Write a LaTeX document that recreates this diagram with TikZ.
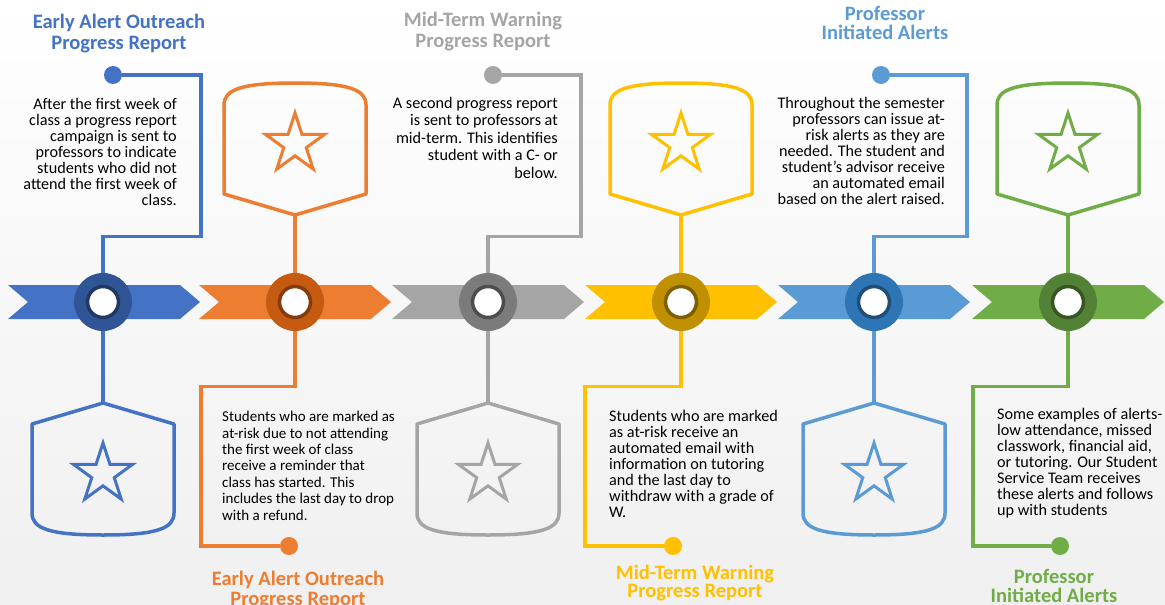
\documentclass[tikz,border=0pt]{standalone}
\usepackage{fontspec}
\setmainfont{Carlito}
\usetikzlibrary{shapes.geometric}
\definecolor{tlblue}{HTML}{4472C4}
\definecolor{tlbluedark}{HTML}{2F5597}
\definecolor{tlbluedeep}{HTML}{1F3864}
\definecolor{tlorange}{HTML}{ED7D31}
\definecolor{tlorangedark}{HTML}{C55A11}
\definecolor{tlorangedeep}{HTML}{843C0C}
\definecolor{tlgrey}{HTML}{A5A5A5}
\definecolor{tlgreydark}{HTML}{7B7B7B}
\definecolor{tlgreydeep}{HTML}{4D4D4D}
\definecolor{tlgold}{HTML}{FFC000}
\definecolor{tlgolddark}{HTML}{BF9000}
\definecolor{tlgolddeep}{HTML}{7F6000}
\definecolor{tlsky}{HTML}{5B9BD5}
\definecolor{tlskydark}{HTML}{2E75B6}
\definecolor{tlskydeep}{HTML}{1F4E79}
\definecolor{tlgreen}{HTML}{70AD47}
\definecolor{tlgreendark}{HTML}{538135}
\definecolor{tlgreendeep}{HTML}{375623}

\tikzset{
    chevron/.pic={
        \fill (0,0) -- (172,0) -- (192,17) -- (172,34) -- (0,34) -- (20,17) -- cycle;
    },
    shield/.pic={
        \draw [line width=3.5pt, line join=round] (0,0) -- (-71,-21) -- (-71,-110)
            .. controls (-71,-125) and (-55,-132) .. (0,-132)
            .. controls (55,-132) and (71,-125) .. (71,-110) -- (71,-21) -- cycle;
        \node [badge] (-star) at (0,-71) {};
    },
    badge/.style={star, star points=5, star point ratio=2.618, draw, line width=3pt, minimum size=62pt, inner sep=0pt},
    hub/.style={circle, minimum size=58pt, inner sep=0pt},
    eye/.style={circle, fill=white, line width=3.5pt, minimum size=31pt, inner sep=0pt},
    knob/.style={circle, minimum size=18pt, inner sep=0pt},
    link/.style={line width=3.3pt},
    heading/.style={font=\fontsize{20.5}{#1}\selectfont\bfseries, align=center, anchor=north, inner sep=0pt},
    heading/.default=20,
    blurb/.style={font=\fontsize{16.2}{#1}\selectfont, inner sep=0pt},
    blurb/.default=16,
}

\begin{document}
\begin{tikzpicture}[x=1pt, y=-1pt]
        \useasboundingbox (0,0) rectangle (1165,605);
        \shade [top color=white, bottom color=black!6] (0,0) rectangle (1165,605);

        % timeline band
        \pic [color=tlblue]   at (8,285)   {chevron};
        \pic [color=tlorange] at (199,285) {chevron};
        \pic [color=tlgrey]   at (392,285) {chevron};
        \pic [color=tlgold]   at (585,285) {chevron};
        \pic [color=tlsky]    at (778,285) {chevron};
        \pic [color=tlgreen]  at (972,285) {chevron};

        % hubs on the band
        \node [hub, fill=tlbluedark]   (c1) at (103,302)  {};
        \node [hub, fill=tlorangedark] (c2) at (295,302)  {};
        \node [hub, fill=tlgreydark]   (c3) at (488,302)  {};
        \node [hub, fill=tlgolddark]   (c4) at (681,302)  {};
        \node [hub, fill=tlskydark]    (c5) at (874,302)  {};
        \node [hub, fill=tlgreendark]  (c6) at (1068,302) {};

        \node [eye, draw=tlbluedeep]   (e1) at (c1) {};
        \node [eye, draw=tlorangedeep] (e2) at (c2) {};
        \node [eye, draw=tlgreydeep]   (e3) at (c3) {};
        \node [eye, draw=tlgolddeep]   (e4) at (c4) {};
        \node [eye, draw=tlskydeep]    (e5) at (c5) {};
        \node [eye, draw=tlgreendeep]  (e6) at (c6) {};

        % end dots of the text leaders
        \node [knob, fill=tlblue]   (d1) at (113,75)  {};
        \node [knob, fill=tlorange] (d2) at (289,546) {};
        \node [knob, fill=tlgrey]   (d3) at (493,75)  {};
        \node [knob, fill=tlgold]   (d4) at (673,546) {};
        \node [knob, fill=tlsky]    (d5) at (881,75)  {};
        \node [knob, fill=tlgreen]  (d6) at (1060,546) {};

        \draw [link, tlblue]   (c1.north) |- ++(98,-36) |- (d1);
        \draw [link, tlorange] (c2.south) |- ++(-94,55) |- (d2);
        \draw [link, tlgrey]   (c3.north) |- ++(93,-36) |- (d3);
        \draw [link, tlgold]   (c4.south) |- ++(-96,55) |- (d4);
        \draw [link, tlsky]    (c5.north) |- ++(93,-36) |- (d5);
        \draw [link, tlgreen]  (c6.south) |- ++(-95,55) |- (d6);

        % shields with stars
        \coordinate (s1) at (103,403);
        \coordinate (s2) at (295,215);
        \coordinate (s3) at (488,403);
        \coordinate (s4) at (681,215);
        \coordinate (s5) at (874,403);
        \coordinate (s6) at (1068,215);

        \draw [link, tlblue]   (c1.south) -- (s1);
        \draw [link, tlorange] (c2.north) -- (s2);
        \draw [link, tlgrey]   (c3.south) -- (s3);
        \draw [link, tlgold]   (c4.north) -- (s4);
        \draw [link, tlsky]    (c5.south) -- (s5);
        \draw [link, tlgreen]  (c6.north) -- (s6);

        \pic [color=tlblue, yscale=-1] (sh1) at (s1) {shield};
        \pic [color=tlorange]          (sh2) at (s2) {shield};
        \pic [color=tlgrey, yscale=-1] (sh3) at (s3) {shield};
        \pic [color=tlgold]            (sh4) at (s4) {shield};
        \pic [color=tlsky, yscale=-1]  (sh5) at (s5) {shield};
        \pic [color=tlgreen]           (sh6) at (s6) {shield};

        % headings
        \node [heading=21, tlblue]   (h1) at (119,14)  {Early Alert Outreach\\Progress Report};
        \node [heading=20, tlorange] (h2) at (298,571) {Early Alert Outreach\\Progress Report};
        \node [heading=21, tlgrey]   (h3) at (483,12)  {Mid-Term Warning\\Progress Report};
        \node [heading=18, tlgold]   (h4) at (695,565) {Mid-Term Warning\\Progress Report};
        \node [heading=19, tlsky]    (h5) at (885,6)   {Professor\\Initiated Alerts};
        \node [heading=19, tlgreen]  (h6) at (1054,569) {Professor\\Initiated Alerts};

        % descriptions
        \node [blurb, align=right, anchor=north east] (t1) at (177,98)
            {After the first week of\\class a progress report\\campaign is sent to\\professors to indicate\\students who did not\\attend the first week of\\class.};
        \node [blurb, font=\fontsize{15}{16.4}\selectfont, align=left, anchor=north west] (t2) at (222,411)
            {Students who are marked as\\at-risk due to not attending\\the first week of class\\receive a reminder that\\class has started. This\\includes the last day to drop\\with a refund.};
        \node [blurb=17.5, align=right, anchor=north east] (t3) at (558,97)
            {A second progress report\\is sent to professors at\\mid-term. This identifies\\student with a C- or\\below.};
        \node [blurb, align=left, anchor=north west] (t4) at (609,410)
            {Students who are marked\\as at-risk receive an\\automated email with\\information on tutoring\\and the last day to\\withdraw with a grade of\\W.};
        \node [blurb, align=right, anchor=north east] (t5) at (945,97)
            {Throughout the semester\\professors can issue at-\\risk alerts as they are\\needed. The student and\\student’s advisor receive\\an automated email\\based on the alert raised.};
        \node [blurb, align=left, anchor=north west] (t6) at (997,408)
            {Some examples of alerts-\\low attendance, missed\\classwork, financial aid,\\or tutoring. Our Student\\Service Team receives\\these alerts and follows\\up with students};
    \end{tikzpicture}
\end{document}
